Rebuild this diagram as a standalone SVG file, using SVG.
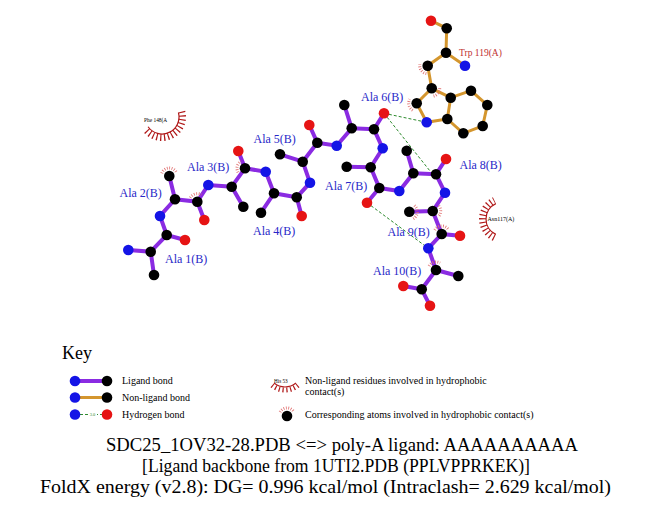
<svg xmlns="http://www.w3.org/2000/svg" width="651" height="511" viewBox="0 0 651 511">
<style>
.lb{stroke:#8a2be2;stroke-width:4;stroke-linecap:round;fill:none}
.nb{stroke:#d4962e;stroke-width:3;stroke-linecap:round;fill:none}
.hb{stroke:#2e8b2e;stroke-width:1;stroke-dasharray:3 2;fill:none}
.C{fill:#000}
.N{fill:#1414e6}
.O{fill:#e61414}
circle{r:5.3}
.lab{font-family:"Liberation Serif","Times New Roman",serif;font-size:12px;fill:#2828c8}
.res{font-family:"Liberation Serif","Times New Roman",serif;fill:#000}
.hm{stroke:#e07070;stroke-width:3;stroke-dasharray:0.8 1.6;fill:none}
.arc{stroke:#b01818;stroke-width:1.2;fill:none}
.spk{stroke:#b01818;stroke-width:7;stroke-dasharray:1.2 2.6;fill:none}
.key{font-family:"Liberation Serif","Times New Roman",serif;font-size:10px;fill:#000}
.title{font-family:"Liberation Serif","Times New Roman",serif;font-size:19px;fill:#000}
</style>
<g id="connectors">
<polyline class="lb" points="128.3,250 150.7,251.7 154,275"/>
<polyline class="lb" points="150.7,251.7 166.7,235 185,240"/>
<polyline class="lb" points="166.7,235 160,216 175,199.3 169.3,176"/>
<polyline class="lb" points="175,199.3 197.3,201.7 204.3,220"/>
<polyline class="lb" points="197.3,201.7 208.3,185 231.7,186.7 243.3,206.7"/>
<polyline class="lb" points="231.7,186.7 245,168.3 238.3,151"/>
<polyline class="lb" points="245,168.3 265.7,171.7 274,193.3 261,212.7"/>
<polyline class="lb" points="274,193.3 296.7,197.3 301.7,216"/>
<polyline class="lb" points="296.7,197.3 310,182.7 302.7,161.7 280,154.3"/>
<polyline class="lb" points="302.7,161.7 317.3,142.7 309.3,125"/>
<polyline class="lb" points="317.3,142.7 336.7,145.7 351.7,128.3 344.3,105"/>
<polyline class="lb" points="351.7,128.3 374,129.3 384,113.3"/>
<polyline class="lb" points="374,129.3 382.7,148.3 370.7,167.3 346.7,166.7"/>
<polyline class="lb" points="370.7,167.3 379.3,188 367,202.7"/>
<polyline class="lb" points="379.3,188 399.3,191 413.3,173.3 406.7,150.7"/>
<polyline class="lb" points="413.3,173.3 436,174.3 446,159"/>
<polyline class="lb" points="436,174.3 445,192.7 432.7,211 409.3,211.7"/>
<polyline class="lb" points="432.7,211 441.7,234 460,235.7"/>
<polyline class="lb" points="441.7,234 428.3,248.3 436,270 458.3,276"/>
<polyline class="lb" points="436,270 421.7,289.3 403.3,286"/>
<polyline class="lb" points="421.7,289.3 430,305.7"/>
<polyline class="nb" points="431,20.7 446.7,28.3 446,52.7 465,65.7"/>
<polyline class="nb" points="446,52.7 427.7,65.7 431.7,88.3 416.7,103.3 426.7,122.3 447.3,119 450.7,97.7 431.7,88.3"/>
<polyline class="nb" points="450.7,97.7 471,90.7 487.3,105 482.7,126 463.3,133.3 447.3,119"/>
<line class="hb" x1="384" y1="113.3" x2="426.7" y2="122.3"/>
<line class="hb" x1="384" y1="113.3" x2="430" y2="171"/>
<line class="hb" x1="367" y1="202.7" x2="428.3" y2="248.3"/>
</g>
<g id="ligand">
<circle class="N" cx="128.3" cy="250" r="5.3"/>
<circle class="C" cx="150.7" cy="251.7" r="5.3"/>
<circle class="C" cx="154" cy="275" r="5.3"/>
<circle class="C" cx="166.7" cy="235" r="5.3"/>
<circle class="O" cx="185" cy="240" r="5.3"/>
<circle class="N" cx="160" cy="216" r="5.3"/>
<circle class="C" cx="175" cy="199.3" r="5.3"/>
<circle class="C" cx="169.3" cy="176" r="5.3"/>
<circle class="C" cx="197.3" cy="201.7" r="5.3"/>
<circle class="O" cx="204.3" cy="220" r="5.3"/>
<circle class="N" cx="208.3" cy="185" r="5.3"/>
<circle class="C" cx="231.7" cy="186.7" r="5.3"/>
<circle class="C" cx="243.3" cy="206.7" r="5.3"/>
<circle class="C" cx="245" cy="168.3" r="5.3"/>
<circle class="O" cx="238.3" cy="151" r="5.3"/>
<circle class="N" cx="265.7" cy="171.7" r="5.3"/>
<circle class="C" cx="274" cy="193.3" r="5.3"/>
<circle class="C" cx="261" cy="212.7" r="5.3"/>
<circle class="C" cx="296.7" cy="197.3" r="5.3"/>
<circle class="O" cx="301.7" cy="216" r="5.3"/>
<circle class="N" cx="310" cy="182.7" r="5.3"/>
<circle class="C" cx="302.7" cy="161.7" r="5.3"/>
<circle class="C" cx="280" cy="154.3" r="5.3"/>
<circle class="C" cx="317.3" cy="142.7" r="5.3"/>
<circle class="O" cx="309.3" cy="125" r="5.3"/>
<circle class="N" cx="336.7" cy="145.7" r="5.3"/>
<circle class="C" cx="351.7" cy="128.3" r="5.3"/>
<circle class="C" cx="344.3" cy="105" r="5.3"/>
<circle class="C" cx="374" cy="129.3" r="5.3"/>
<circle class="O" cx="384" cy="113.3" r="5.3"/>
<circle class="N" cx="382.7" cy="148.3" r="5.3"/>
<circle class="C" cx="370.7" cy="167.3" r="5.3"/>
<circle class="C" cx="346.7" cy="166.7" r="5.3"/>
<circle class="C" cx="379.3" cy="188" r="5.3"/>
<circle class="O" cx="367" cy="202.7" r="5.3"/>
<circle class="N" cx="399.3" cy="191" r="5.3"/>
<circle class="C" cx="413.3" cy="173.3" r="5.3"/>
<circle class="C" cx="406.7" cy="150.7" r="5.3"/>
<circle class="C" cx="436" cy="174.3" r="5.3"/>
<circle class="O" cx="446" cy="159" r="5.3"/>
<circle class="N" cx="445" cy="192.7" r="5.3"/>
<circle class="C" cx="432.7" cy="211" r="5.3"/>
<circle class="C" cx="409.3" cy="211.7" r="5.3"/>
<circle class="C" cx="441.7" cy="234" r="5.3"/>
<circle class="O" cx="460" cy="235.7" r="5.3"/>
<circle class="N" cx="428.3" cy="248.3" r="5.3"/>
<circle class="C" cx="436" cy="270" r="5.3"/>
<circle class="C" cx="458.3" cy="276" r="5.3"/>
<circle class="C" cx="421.7" cy="289.3" r="5.3"/>
<circle class="O" cx="403.3" cy="286" r="5.3"/>
<circle class="O" cx="430" cy="305.7" r="5.3"/>
<path class="hm" d="M161.78,173.26 A8,8 0 0 1 176.82,173.26"/>
<path class="hm" d="M190.37,197.7 A8,8 0 0 1 201.3,194.77"/>
<path class="hm" d="M238.07,172.3 A8,8 0 0 1 241,161.37"/>
<path class="hm" d="M438.83,205.86 A8,8 0 0 1 438.83,216.14"/>
<path class="hm" d="M414.44,205.57 A8,8 0 0 1 413.3,218.63"/>
<path class="hm" d="M434.77,230 A8,8 0 0 1 448.63,230"/>
<path class="hm" d="M429.07,266 A8,8 0 0 1 440,263.07"/>
<text class="lab" x="165" y="263">Ala 1(B)</text>
<text class="lab" x="119.5" y="197">Ala 2(B)</text>
<text class="lab" x="187" y="171">Ala 3(B)</text>
<text class="lab" x="253" y="235">Ala 4(B)</text>
<text class="lab" x="253.5" y="143">Ala 5(B)</text>
<text class="lab" x="361" y="101">Ala 6(B)</text>
<text class="lab" x="325" y="190">Ala 7(B)</text>
<text class="lab" x="459.5" y="169">Ala 8(B)</text>
<text class="lab" x="387.5" y="236">Ala 9(B)</text>
<text class="lab" x="373" y="275">Ala 10(B)</text>
</g>
<g id="trp119">
<circle class="O" cx="431" cy="20.7" r="5.3"/>
<circle class="C" cx="446.7" cy="28.3" r="5.3"/>
<circle class="C" cx="446" cy="52.7" r="5.3"/>
<circle class="N" cx="465" cy="65.7" r="5.3"/>
<circle class="C" cx="427.7" cy="65.7" r="5.3"/>
<circle class="C" cx="431.7" cy="88.3" r="5.3"/>
<circle class="C" cx="416.7" cy="103.3" r="5.3"/>
<circle class="N" cx="426.7" cy="122.3" r="5.3"/>
<circle class="C" cx="447.3" cy="119" r="5.3"/>
<circle class="C" cx="450.7" cy="97.7" r="5.3"/>
<circle class="C" cx="471" cy="90.7" r="5.3"/>
<circle class="C" cx="487.3" cy="105" r="5.3"/>
<circle class="C" cx="482.7" cy="126" r="5.3"/>
<circle class="C" cx="463.3" cy="133.3" r="5.3"/>
<path class="hm" d="M426.31,73.58 A8,8 0 0 1 419.82,64.31"/>
<path class="hm" d="M439.7,88.3 A8,8 0 0 1 433.09,96.18"/>
<path class="hm" d="M412.7,110.23 A8,8 0 0 1 409.77,99.3"/>
<text class="res" x="459" y="55.5" font-size="9.5" style="fill:#c03030">Trp 119(A)</text>
</g>
<g id="phe148">
<path class="arc" d="M178.42,112.6 A17,17 0 0 1 148.07,126.75"/>
<path class="spk" d="M181.8,111.69 A20.5,20.5 0 0 1 145.21,128.76"/>
<text class="res" x="144" y="122" font-size="5.4">Phe 148(A</text>
</g>
<g id="asn117">
<path class="arc" d="M495.82,234.41 A17,17 0 0 1 495.82,203.59"/>
<path class="spk" d="M494.34,237.58 A20.5,20.5 0 0 1 494.34,200.42"/>
<text class="res" x="487.5" y="221" font-size="6">Asn117(A)</text>
</g>
<g id="key">
<text x="62" y="359" font-family="Liberation Serif, Times New Roman, serif" font-size="18">Key</text>
<line class="lb" x1="75" y1="381" x2="107" y2="381"/>
<circle class="N" cx="75" cy="381" r="5.3"/>
<circle class="C" cx="107" cy="381" r="5.3"/>
<text class="key" x="122" y="384">Ligand bond</text>
<line class="nb" x1="75" y1="397.5" x2="107" y2="397.5"/>
<circle class="N" cx="75" cy="397.5" r="5.3"/>
<circle class="C" cx="107" cy="397.5" r="5.3"/>
<text class="key" x="122" y="401">Non-ligand bond</text>
<line class="hb" x1="75" y1="414.5" x2="107" y2="414.5"/>
<rect x="88" y="412" width="9" height="5" fill="#fff"/>
<text x="92.5" y="416" font-family="Liberation Serif, serif" font-size="4.5" fill="#2e8b2e" text-anchor="middle">3.0</text>
<circle class="N" cx="75" cy="414.5" r="5.3"/>
<circle class="O" cx="107" cy="414.5" r="5.3"/>
<text class="key" x="122" y="418">Hydrogen bond</text>
<text class="res" x="274" y="382.5" font-size="5.2">His 53</text>
<path class="arc" d="M295.93,383.02 A17,17 0 0 1 274.07,383.02"/>
<path class="spk" d="M297.86,385.32 A20,20 0 0 1 272.14,385.32" style="stroke-width:5"/>
<text class="key" x="305" y="384">Non-ligand residues involved in hydrophobic</text>
<text class="key" x="305" y="395">contact(s)</text>
<circle class="C" cx="287" cy="416" r="5.5"/>
<path class="hm" d="M280.07,412 A8,8 0 0 1 293.93,412"/>
<text class="key" x="305" y="418">Corresponding atoms involved in hydrophobic contact(s)</text>
</g>
<g id="titles">
<text class="title" x="106" y="451" textLength="472" lengthAdjust="spacingAndGlyphs">SDC25_1OV32-28.PDB &lt;=&gt; poly-A ligand: AAAAAAAAAA</text>
<text class="title" x="142" y="472" textLength="388" lengthAdjust="spacingAndGlyphs">[Ligand backbone from 1UTI2.PDB (PPLVPPRKEK)]</text>
<text class="title" x="40" y="493" textLength="571" lengthAdjust="spacingAndGlyphs">FoldX energy (v2.8): DG= 0.996 kcal/mol (Intraclash= 2.629 kcal/mol)</text>
</g>
</svg>
